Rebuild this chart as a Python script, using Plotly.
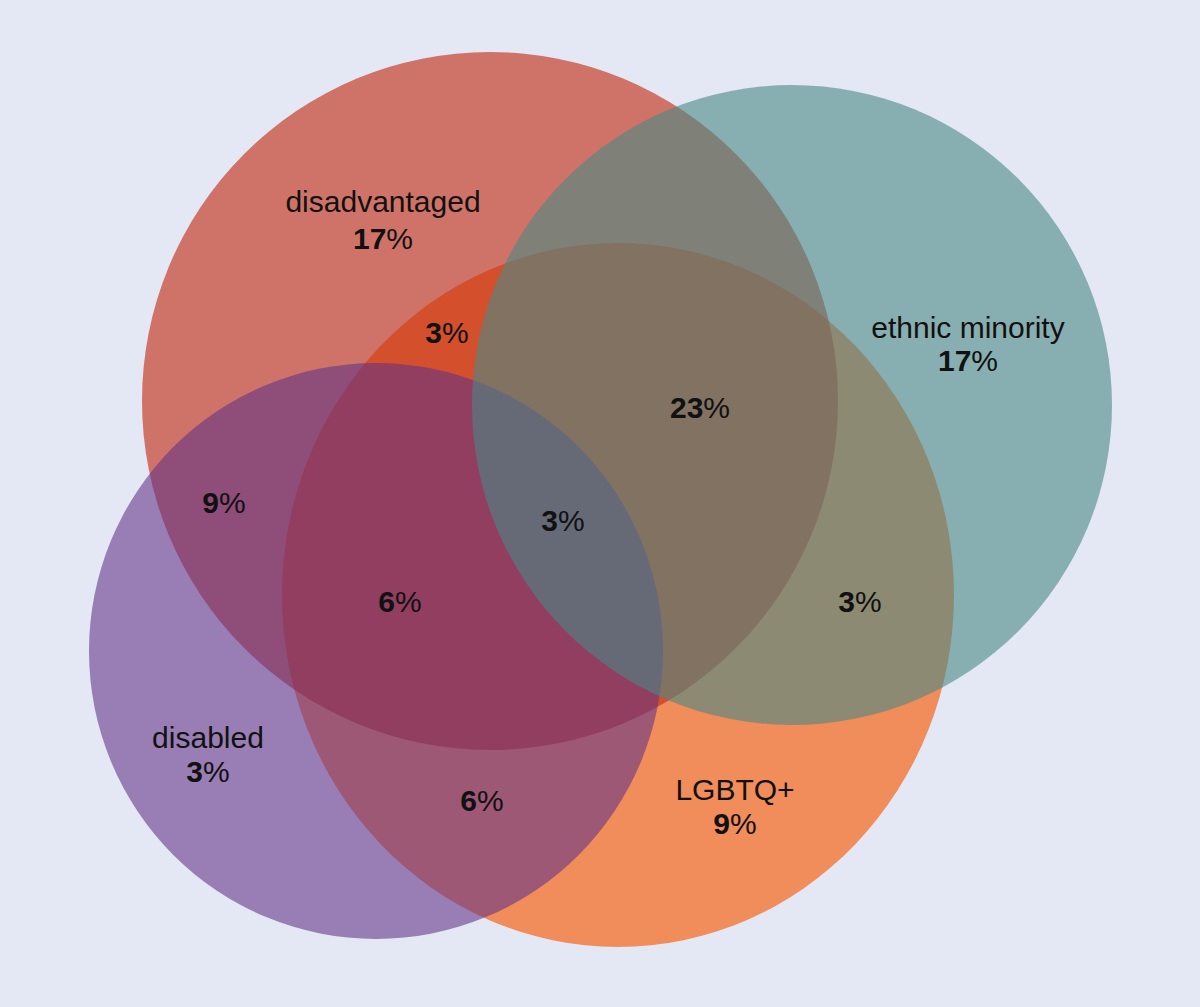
import plotly.graph_objects as go

# sets of the Venn diagram and the share found only in each set
sets = ["disadvantaged", "ethnic minority", "LGBTQ+", "disabled"]
set_only_pct = [17, 17, 9, 3]

# circle geometry in canvas units (x to the right, y downwards)
circle_cx = [490, 792, 618, 376]
circle_cy = [401, 405, 595, 651]
circle_rx = [348, 320, 336, 287]
circle_ry = [349, 320, 352, 288]

# overlap shares and where their labels sit
overlap_pct = [3, 23, 9, 3, 6, 3, 6]
overlap_x = [447, 700, 224, 563, 400, 860, 482]
overlap_y = [335, 410, 505, 523, 604, 604, 803]

# set label anchors (name line / percent line)
name_x = [383, 968, 735, 208]
name_y = [204, 330, 792, 740]
pct_y = [241, 363, 826, 774]

colors = {
    "disadvantaged": "rgba(194,43,18,0.62)",
    "ethnic minority": "rgba(73,137,132,0.6)",
    "LGBTQ+": "rgba(245,110,40,0.75)",
    "disabled": "rgba(96,50,136,0.58)",
}
draw_order = ["LGBTQ+", "disadvantaged", "disabled", "ethnic minority"]

FONT = "Liberation Sans"
SIZE = 30

fig = go.Figure()

for name in draw_order:
    i = sets.index(name)
    fig.add_shape(
        type="circle",
        xref="x", yref="y",
        x0=circle_cx[i] - circle_rx[i], x1=circle_cx[i] + circle_rx[i],
        y0=circle_cy[i] - circle_ry[i], y1=circle_cy[i] + circle_ry[i],
        fillcolor=colors[name],
        line=dict(width=0),
        layer="below",
    )

# set names
fig.add_trace(go.Scatter(
    x=name_x, y=name_y,
    mode="text",
    text=sets,
    textposition="middle center",
    textfont=dict(family=FONT, size=SIZE, color="#111111"),
    hoverinfo="skip",
    showlegend=False,
))

# set-only percentages
fig.add_trace(go.Scatter(
    x=name_x, y=pct_y,
    mode="text",
    text=[f"<b>{v}</b>%" for v in set_only_pct],
    textposition="middle center",
    textfont=dict(family=FONT, size=SIZE, color="#111111"),
    hoverinfo="skip",
    showlegend=False,
))

# overlap percentages
fig.add_trace(go.Scatter(
    x=overlap_x, y=overlap_y,
    mode="text",
    text=[f"<b>{v}</b>%" for v in overlap_pct],
    textposition="middle center",
    textfont=dict(family=FONT, size=SIZE, color="#111111"),
    hoverinfo="skip",
    showlegend=False,
))

fig.update_layout(
    width=1200,
    height=1007,
    margin=dict(l=0, r=0, t=0, b=0),
    paper_bgcolor="#E4E8F4",
    plot_bgcolor="#E4E8F4",
    xaxis=dict(range=[0, 1200], visible=False, fixedrange=True),
    yaxis=dict(range=[1007, 0], visible=False, fixedrange=True),
)

fig.write_html("out.html", config={"displayModeBar": False},
               post_script="document.body.style.margin='0';")
